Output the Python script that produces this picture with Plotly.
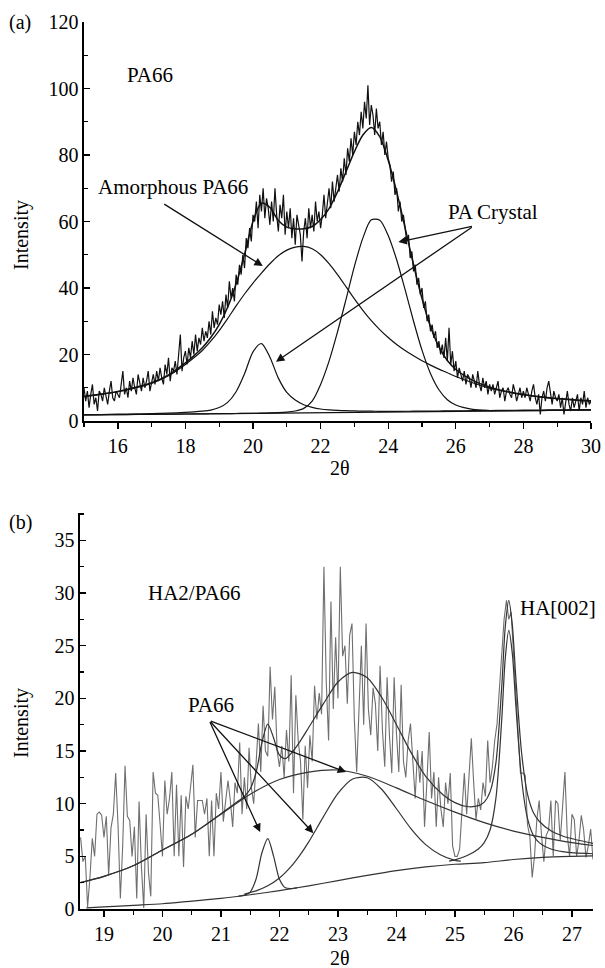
import numpy as np
import plotly.graph_objects as go

# ---------------- panel (a) : PA66 ----------------
a_scan_start, a_scan_step = 15.0, 0.05
a_counts = [
    10, 6, 9, 4, 8, 11, 5, 7, 3, 9, 8, 6, 10, 7, 5, 9, 12, 7, 6, 9, 8,
    7, 11, 15, 8, 10, 7, 12, 9, 13, 10, 8, 14, 11, 9, 13, 10, 12, 15, 9, 12,
    14, 11, 15, 12, 16, 13, 11, 17, 14, 19, 12, 16, 15, 18, 14, 20, 26, 15, 19, 21,
    17, 22, 19, 24, 20, 26, 21, 25, 23, 28, 24, 27, 25, 30, 26, 33, 28, 31, 29, 35,
    32, 36, 31, 38, 34, 42, 37, 40, 36, 44,
    41, 47, 44, 50, 46, 55, 52, 58, 54, 62,
    60, 66, 58, 68, 63, 70, 61, 67, 64, 59,
    66, 60, 70, 62, 57, 65, 61, 68, 56, 63,
    58, 64, 55, 61, 53, 62, 59, 56, 48, 57,
    61, 55, 64, 58, 62, 57, 66, 60, 63, 58,
    62, 68, 61, 65, 70, 64, 72, 66, 71, 74,
    69, 76, 72, 79, 74, 82, 78, 85, 80, 87,
    83, 90, 86, 93, 88, 96, 91, 101, 89, 95,
    92, 86, 94, 88, 90, 83, 87, 80, 84, 79,
    77, 72, 75, 68, 70, 63, 66, 60, 62, 57,
    54, 56, 49, 51, 45, 47, 41, 43, 38, 40,
    34, 36, 30, 32, 27, 29, 25, 27, 22, 24,
    20, 23, 19, 25, 18, 28, 17, 21, 15, 18,
    13, 16, 14, 12, 15, 11, 14, 13, 10, 14,
    12, 10, 15, 11, 9, 13, 10, 12, 8, 11,
    9, 11, 8, 10, 12, 7, 9, 10, 6, 9,
    10, 8, 7, 11, 9, 6, 8, 10, 7, 9,
    7, 10, 8, 6, 9, 11, 7, 5, 8, 2,
    7, 9, 6, 10, 12, 8, 5, 9, 7, 6,
    8, 4, 7, 2, 6, 9, 5, 3, 7, 4,
    6, 8, 3, 7, 5, 9, 4, 7, 5, 6,
]

a_fit_x = [15, 15.5, 16, 16.5, 17, 17.5, 18,
           18.25, 18.5, 18.75, 19, 19.25, 19.5, 19.75, 20,
           20.25, 20.5, 20.75, 21, 21.25, 21.5, 21.75, 22,
           22.25, 22.5, 22.75, 23, 23.25, 23.5, 23.75, 24,
           24.25, 24.5, 24.75, 25, 25.25, 25.5, 25.75, 26,
           26.5, 27, 27.5, 28, 28.5, 29, 29.5, 30]
a_amorph = [7.3, 8.0, 8.8, 9.9, 11.3, 13.6, 17.0,
            19.0, 21.2, 24.0, 27.2, 30.8, 34.6, 38.2, 41.5,
            44.5, 47.3, 49.7, 51.4, 52.3, 52.5, 51.8, 50.0,
            47.3, 44.0, 40.4, 36.7, 33.3, 30.2, 27.5, 25.1,
            23.0, 21.2, 19.6, 18.1, 16.8, 15.6, 14.5, 13.4,
            11.5, 9.9, 8.8, 7.9, 7.2, 6.7, 6.3, 6.0]
a_cryst1 = [1.89, 1.96, 2.04, 2.13, 2.23, 2.37, 2.58,
            2.73, 2.94, 3.29, 4.04, 5.6, 8.8, 14.2, 20.8,
            23.3, 19.2, 12.9, 8.6, 6.3, 4.9, 4.1, 3.6,
            3.35, 3.2, 3.1, 3.02, 2.97, 2.94, 2.92, 2.91,
            2.92, 2.93, 2.95, 2.97, 2.99, 3.01, 3.03, 3.05,
            3.1, 3.15, 3.2, 3.25, 3.3, 3.35, 3.4, 3.45]
a_cryst2 = [1.8, 1.85, 1.9, 1.95, 2.0, 2.05, 2.1,
            2.13, 2.15, 2.18, 2.2, 2.23, 2.26, 2.29, 2.32,
            2.36, 2.42, 2.5, 2.65, 3.0, 3.8, 6.0, 11.0,
            18.0, 26.8, 36.5, 46.5, 55.0, 60.5, 60.4, 55.8,
            48.5, 39.5, 30.0, 21.3, 14.3, 9.4, 6.4, 4.8,
            3.5, 3.15, 3.08, 3.1, 3.15, 3.2, 3.25, 3.3]
a_total = [7.4, 8.1, 8.9, 10.1, 11.5, 13.9, 17.5,
           19.6, 22.0, 25.1, 29.0, 34.2, 41.2, 50.1, 60.0,
           65.5, 64.2, 60.3, 58.3, 57.8, 57.8, 58.5, 60.6,
           63.9, 68.9, 74.9, 81.0, 86.0, 88.3, 85.5, 78.4,
           69.0, 58.1, 47.0, 36.8, 28.4, 22.3, 18.2, 15.5,
           12.2, 10.2, 8.9, 8.0, 7.3, 6.8, 6.4, 6.1]
a_base_x = [15, 30]
a_base = [1.8, 3.3]

# ---------------- panel (b) : HA2/PA66 ----------------
b_scan_start, b_scan_step = 18.60, 0.04
b_counts = [
    6.8, 4.5, 5.0, 0.2, 3.0, 6.7, 5.0, 9.0, 9.2, 8.9,
    6.8, 8.8, 3.2, 7.7, 9.0, 12.9, 8.0, 1.0, 6.0, 13.6,
    8.8, 8.4, 5.0, 7.8, 1.0, 10.2, 4.0, 0.1, 9.0, 3.5,
    1.2, 13.0, 11.0, 10.8, 8.0, 5.0, 12.2, 9.0, 10.5, 13.0,
    5.0, 11.8, 5.0, 10.8, 4.0, 10.7, 9.5, 11.5, 13.7, 6.8,
    10.3, 10.3, 10.3, 9.0, 10.5, 5.0, 10.3, 5.0, 11.0, 9.5,
    13.0, 8.3, 10.5, 12.2, 10.3, 7.8, 12.0, 11.0, 15.8, 9.0,
    12.5, 9.5, 15.3, 11.5, 10.0, 14.5, 17.6, 13.0, 19.3, 15.0,
    14.5, 23.0, 18.0, 21.1, 15.0, 13.5, 15.5, 12.5, 17.0, 14.0,
    22.2, 11.0, 20.3, 16.0, 14.0, 8.5, 15.5, 11.5, 16.5, 14.0,
    21.2, 18.0, 20.5, 18.5, 32.5, 21.5, 16.0, 29.2, 19.0, 25.8,
    20.0, 32.5, 24.0, 25.0, 19.5, 26.0, 27.1, 18.0, 13.0, 19.0,
    25.0, 17.5, 27.1, 19.0, 16.5, 21.0, 19.5, 15.0, 23.1, 17.0,
    13.5, 22.0, 16.5, 12.9, 22.0, 16.7, 13.0, 21.3, 14.0, 12.5,
    16.0, 17.6, 13.5, 10.5, 15.1, 12.0, 15.0, 7.8, 12.0, 16.8,
    10.5, 13.0, 7.8, 12.5, 9.5, 7.8, 12.0, 10.0, 12.9, 6.0,
    5.0, 5.0, 5.7, 9.0, 12.9, 9.0, 12.5, 16.2, 12.0, 8.5,
    10.5, 9.4, 12.0, 10.7, 16.0, 12.0, 13.5, 16.0, 17.6, 20.8,
    24.0, 27.5, 29.3, 27.5, 28.2, 24.5, 21.1, 17.0, 12.9, 12.9,
    12.7, 8.0, 6.9, 3.0, 5.0, 8.5, 10.3, 7.0, 4.5, 7.0,
    7.5, 10.3, 5.0, 10.3, 10.0, 6.5, 9.5, 13.0, 7.0, 5.0,
    9.0, 8.5, 5.0, 6.5, 8.9, 7.5, 4.9, 6.0, 7.6, 4.7,
    6.0,
]

b_base_x = [18.7, 19, 19.5, 20, 20.5, 21, 21.5, 22, 22.5, 23, 23.5, 24,
            24.5, 25, 25.5, 26, 26.5, 27, 27.4]
b_base = [0.1, 0.2, 0.35, 0.5, 0.75, 1.0, 1.35, 1.75, 2.2, 2.7, 3.2, 3.65,
          4.0, 4.25, 4.4, 4.7, 4.9, 5.0, 5.05]
b_amorph_x = [18.6, 19, 19.5, 20, 20.5, 21, 21.5, 22, 22.5, 23, 23.5, 24,
              24.5, 25, 25.5, 26, 26.5, 27, 27.4]
b_amorph = [2.5, 3.1, 4.1, 5.6, 7.1, 9.0, 10.9, 12.3, 13.0, 13.2, 12.6, 11.5,
            10.3, 9.2, 8.2, 7.4, 6.8, 6.3, 6.0]
b_p1_x = [21.3, 21.4, 21.5, 21.6, 21.7, 21.8, 21.9, 22.0, 22.1, 22.2, 22.3]
b_p1 = [1.22, 1.32, 1.61, 2.85, 5.34, 6.69, 5.0, 2.82, 2.01, 1.94, 2.0]
b_p2_x = [21.4, 21.6, 21.8, 22.0, 22.2, 22.35, 22.5, 22.75, 23.0, 23.25, 23.5,
          23.75, 24.0, 24.25, 24.5, 24.75, 25.0, 25.1]
b_p2 = [1.41, 1.72, 2.2, 2.94, 4.04, 5.11, 6.37, 8.75, 10.97, 12.34, 12.46,
        11.35, 9.52, 7.61, 6.11, 5.15, 4.62, 4.55]
b_ha_x = [24.9, 25.0, 25.2, 25.4, 25.5, 25.6, 25.7, 25.8, 25.86, 25.92, 25.98,
          26.04, 26.14, 26.24, 26.34, 26.44, 26.64, 26.84, 27.04, 27.4]
b_ha = [4.55, 4.66, 5.05, 5.7, 6.3, 7.5, 10.5, 18.0, 23.8, 26.45, 24.3,
        19.4, 12.3, 8.6, 7.0, 6.3, 5.7, 5.45, 5.32, 5.24]
b_total_x = [18.6, 19, 19.5, 20, 20.5, 21, 21.25, 21.4, 21.5, 21.6, 21.7, 21.8,
             21.9, 22.0, 22.1, 22.2, 22.35, 22.5, 22.75, 23.0, 23.25, 23.5,
             23.75, 24.0, 24.25, 24.5, 24.8, 25.0, 25.2, 25.4, 25.5, 25.6,
             25.7, 25.8, 25.86, 25.92, 25.98, 26.04, 26.14, 26.24, 26.34,
             26.44, 26.64, 26.84, 27.04, 27.4]
b_total = [2.5, 3.1, 4.1, 5.6, 7.1, 9.05, 10.06, 10.7, 11.4, 12.96, 15.8, 17.56,
           16.24, 14.6, 14.27, 14.78, 15.9, 17.23, 19.47, 21.55, 22.47, 21.95,
           20.08, 17.5, 14.85, 12.6, 10.83, 10.1, 9.73, 9.81, 10.15, 11.12,
           13.88, 21.12, 26.78, 29.3, 27.0, 22.03, 14.79, 10.9, 9.16,
           8.33, 7.42, 6.93, 6.62, 6.19]

a_scan_x = np.round(a_scan_start + a_scan_step * np.arange(len(a_counts)), 3)
b_scan_x = np.round(b_scan_start + b_scan_step * np.arange(len(b_counts)), 3)

FONT = "Liberation Serif, Times New Roman, serif"
BLACK = "#111111"
DATA_B = "#6f6f6f"
FIT_B = "#333333"

fig = go.Figure()

def line(x, y, xa, ya, color, width, spline=True):
    fig.add_trace(go.Scatter(
        x=x, y=y, xaxis=xa, yaxis=ya, mode="lines",
        line=dict(color=color, width=width,
                  shape="spline" if spline else "linear", smoothing=0.8),
        hoverinfo="skip", showlegend=False))

# panel a
line(a_scan_x, a_counts, "x", "y", BLACK, 1.2, spline=False)
line(a_base_x, a_base, "x", "y", BLACK, 1.1, spline=False)
line(a_fit_x, a_cryst2, "x", "y", BLACK, 1.2)
line(a_fit_x, a_cryst1, "x", "y", BLACK, 1.2)
line(a_fit_x, a_amorph, "x", "y", BLACK, 1.2)
line(a_fit_x, a_total, "x", "y", BLACK, 1.5)

# panel b
line(b_scan_x, b_counts, "x2", "y2", DATA_B, 1.1, spline=False)
line(b_base_x, b_base, "x2", "y2", FIT_B, 1.2)
line(b_amorph_x, b_amorph, "x2", "y2", FIT_B, 1.2)
line(b_p1_x, b_p1, "x2", "y2", FIT_B, 1.2)
line(b_p2_x, b_p2, "x2", "y2", FIT_B, 1.2)
line(b_ha_x, b_ha, "x2", "y2", FIT_B, 1.2)
line(b_total_x, b_total, "x2", "y2", FIT_B, 1.2)

W, H = 605, 968
def px_dom(a, b, total, flip=False):
    if flip:
        return [1 - b / total, 1 - a / total]
    return [a / total, b / total]

axis_common = dict(showline=True, linecolor="black", linewidth=1.6,
                   showgrid=False, zeroline=False, automargin=False,
                   tickfont=dict(family=FONT, size=20, color="black"),
                   tickcolor="black", tickwidth=1.4)

fig.update_layout(
    width=W, height=H, margin=dict(l=0, r=0, t=0, b=0),
    paper_bgcolor="white", plot_bgcolor="white", showlegend=False,
    xaxis=dict(domain=px_dom(84, 591, W), anchor="y", range=[15, 30],
               tick0=16, dtick=2, ticks="outside", ticklen=6,
               minor=dict(tick0=15, dtick=1, ticks="outside", ticklen=4,
                          tickcolor="black", tickwidth=1.2),
               **axis_common),
    yaxis=dict(domain=px_dom(22, 421, H, flip=True), anchor="x", range=[0, 120],
               tick0=0, dtick=20, ticks="inside", ticklen=6,
               minor=dict(dtick=10, ticks="inside", ticklen=4,
                          tickcolor="black", tickwidth=1.2),
               **axis_common),
    xaxis2=dict(domain=px_dom(80, 593, W), anchor="y2", range=[18.59, 27.36],
                tick0=19, dtick=1, ticks="outside", ticklen=6,
                minor=dict(tick0=18.5, dtick=0.5, ticks="outside", ticklen=4,
                           tickcolor="black", tickwidth=1.2),
                **axis_common),
    yaxis2=dict(domain=px_dom(513, 909, H, flip=True), anchor="x2",
                range=[0, 37.6], tick0=0, dtick=5, ticks="inside", ticklen=6,
                minor=dict(dtick=2.5, ticks="inside", ticklen=4,
                           tickcolor="black", tickwidth=1.2),
                **axis_common),
)

def text(x, y, s, xref="x", yref="y", angle=0, size=21, xanchor="center"):
    fig.add_annotation(x=x, y=y, xref=xref, yref=yref, text=s, showarrow=False,
                       textangle=angle, xanchor=xanchor, yanchor="middle",
                       font=dict(family=FONT, size=size, color="black"))

def arrow(tail, head, xref, yref, color=BLACK):
    fig.add_annotation(x=head[0], y=head[1], ax=tail[0], ay=tail[1],
                       xref=xref, yref=yref, axref=xref, ayref=yref,
                       text="", showarrow=True, arrowhead=2, arrowsize=1.3,
                       arrowwidth=1.3, arrowcolor=color, standoff=0)

# panel a labels
text(16.95, 104, "PA66")
text(17.63, 70.4, "Amorphous PA66")
text(27.1, 62.9, "PA Crystal")
arrow((17.33, 65.5), (20.29, 46.6), "x", "y")
arrow((26.52, 58.6), (24.3, 53.8), "x", "y")
arrow((26.52, 58.6), (20.68, 17.8), "x", "y")

# panel b labels
text(20.55, 30.0, "HA2/PA66", "x2", "y2")
text(26.76, 28.6, "HA[002]", "x2", "y2")
text(20.83, 19.35, "PA66", "x2", "y2")
arrow((20.8, 17.9), (21.67, 7.3), "x2", "y2")
arrow((20.8, 17.9), (22.58, 7.2), "x2", "y2")
arrow((20.8, 17.9), (23.14, 13.0), "x2", "y2")

# paper labels
text(20 / W, 1 - 23 / H, "(a)", "paper", "paper", size=20)
text(20 / W, 1 - 522 / H, "(b)", "paper", "paper", size=20)
text(21 / W, 1 - 235 / H, "Intensity", "paper", "paper", angle=-90, size=20)
text(21 / W, 1 - 723 / H, "Intensity", "paper", "paper", angle=-90, size=20)
text(340 / W, 1 - 468 / H, "2θ", "paper", "paper", size=20)
text(340 / W, 1 - 958 / H, "2θ", "paper", "paper", size=20)

fig.write_html("out.html",
               config={"displayModeBar": False, "staticPlot": True},
               post_script="document.body.style.margin='0px';"
                           "document.body.style.overflow='hidden';")
